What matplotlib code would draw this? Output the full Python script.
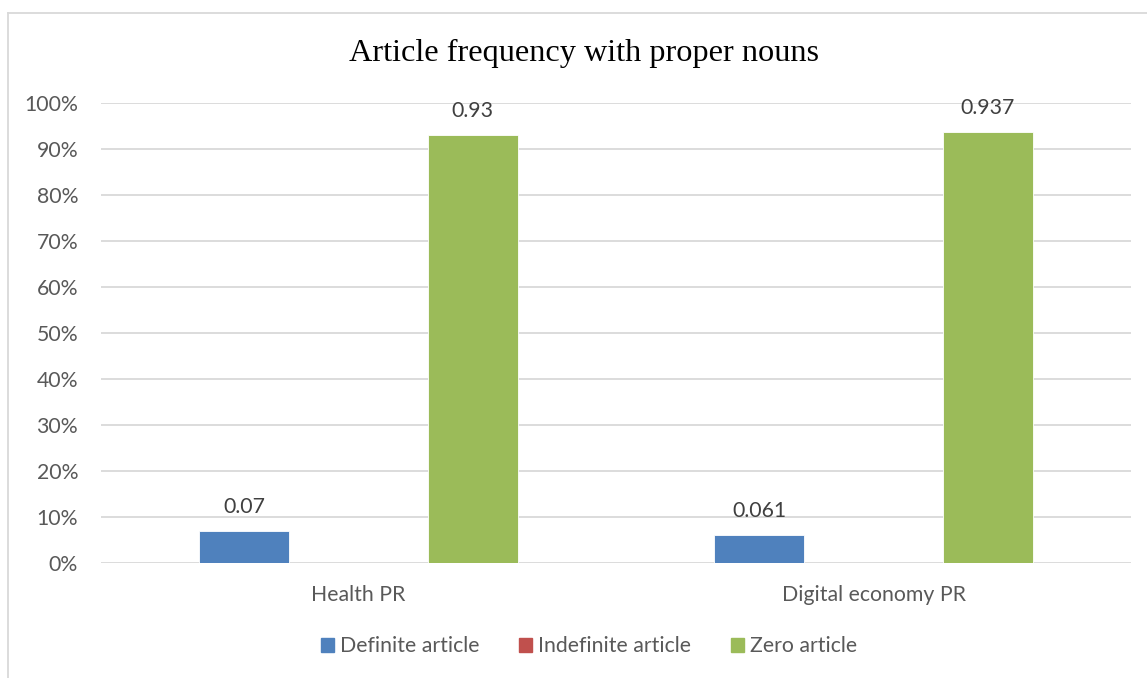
import matplotlib
matplotlib.use("Agg")
import matplotlib.pyplot as plt
from matplotlib.lines import Line2D
from matplotlib.ticker import FuncFormatter
import numpy as np

categories = ["Health PR", "Digital economy PR"]
series_names = ["Definite article", "Indefinite article", "Zero article"]
definite = [0.07, 0.061]
indefinite = [0.0, 0.0]
zero = [0.93, 0.937]
label_texts = [["0.07", "0.061"], None, ["0.93", "0.937"]]
yticks = [0, 0.1, 0.2, 0.3, 0.4, 0.5, 0.6, 0.7, 0.8, 0.9, 1.0]

colors = ["#4F81BD", "#C0504D", "#9BBB59"]
text_color = "#595959"
sans = "Lato"
fs = 15.3

fig = plt.figure(figsize=(11.47, 6.78), dpi=100)
ax = fig.add_axes([101 / 1147, 1 - 563 / 678, 1030 / 1147, 460 / 678])

x = np.arange(len(categories))
offsets = [-0.222, 0.0, 0.222]
width = 0.174
values = [definite, indefinite, zero]

for vals, off, col, name, labs in zip(values, offsets, colors, series_names, label_texts):
    bars = ax.bar(x + off, vals, width, color=col, label=name, zorder=3,
                  edgecolor="white", linewidth=0.6)
    if labs is not None:
        for b, t in zip(bars, labs):
            ax.text(b.get_x() + b.get_width() / 2, b.get_height() + 0.03, t,
                    ha="center", va="bottom", fontsize=fs, color="#404040",
                    family=sans)

ax.set_xlim(-0.5, 1.5)
ax.set_ylim(0, 1.0)
ax.set_yticks(yticks)
ax.yaxis.set_major_formatter(FuncFormatter(lambda v, p: f"{v*100:.0f}%"))
ax.set_xticks(x)
ax.set_xticklabels(categories)
ax.grid(axis="y", color="#D9D9D9", linewidth=1.3, zorder=0)
ax.tick_params(axis="both", length=0, labelsize=fs, labelcolor=text_color)
ax.tick_params(axis="x", pad=16)
ax.tick_params(axis="y", pad=16.5)
for lab in ax.get_xticklabels() + ax.get_yticklabels():
    lab.set_family(sans)
for s in ax.spines.values():
    s.set_visible(False)

fig.text(0.5095, 1 - 53 / 678, "Article frequency with proper nouns", ha="center",
         va="center", fontsize=23.2, family="Liberation Serif", color="black")

handles = [plt.Rectangle((0, 0), 1, 1, color=c) for c in colors]
fig.legend(handles, series_names, loc="center", bbox_to_anchor=(0.5135, 1 - 646.5 / 678),
           ncol=3, frameon=False, handlelength=0.62, handleheight=0.62,
           handletextpad=0.3, columnspacing=1.85,
           prop={"family": sans, "size": fs}, labelcolor=text_color)

# outer chart frame (top and left edges)
fig.add_artist(Line2D([8 / 1147, 1.0], [1 - 13 / 678, 1 - 13 / 678],
                      transform=fig.transFigure, color="#D9D9D9", linewidth=1.3))
fig.add_artist(Line2D([8 / 1147, 8 / 1147], [0.0, 1 - 13 / 678],
                      transform=fig.transFigure, color="#D9D9D9", linewidth=1.3))

fig.savefig("out.png", dpi=100, facecolor="white")
